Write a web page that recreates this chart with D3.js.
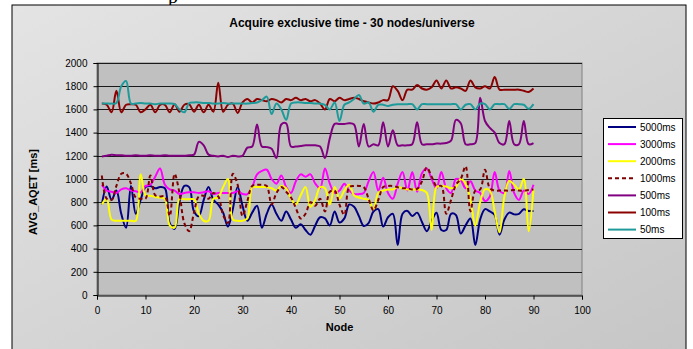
<!DOCTYPE html>
<html>
<head>
<meta charset="utf-8">
<style>
body { margin: 0; background: #fff; }
text { font-family: "Liberation Sans", Arial, sans-serif; fill: #000; }
.grid line { stroke: #1a1a1a; stroke-width: 1px; }
.series { fill: none; stroke-width: 2px; }
</style>
</head>
<body>
<script src="https://cdn.jsdelivr.net/npm/d3@7"></script>
<script>
// series order as in the legend
var seriesNames = ["5000ms", "3000ms", "2000ms", "1000ms", "500ms", "100ms", "50ms"];
var seriesColors = ["#000080", "#ff00ff", "#ffff00", "#800000", "#800080", "#8b0000", "#1f9a9a"];
var xTicks = [0, 10, 20, 30, 40, 50, 60, 70, 80, 90, 100];
var yTicks = [0, 200, 400, 600, 800, 1000, 1200, 1400, 1600, 1800, 2000];

var ms5000 = [780, 935, 820, 900, 700, 580, 940, 700, 820, 930, 940, 920, 930, 920, 620, 570, 800, 940, 930, 720, 680, 820, 930, 820, 780,
  710, 590, 740, 930, 770, 640, 710, 770, 580, 700, 780, 700, 640, 720, 650, 580, 610, 560, 520, 600, 670, 660, 600,
  720, 625, 660, 780, 760, 680, 595, 620, 720, 740, 590, 670, 700, 430, 700, 725, 680, 710, 630, 550, 640, 710, 560, 560, 700,
  690, 530, 600, 660, 430, 650, 740, 720, 690, 520, 650, 710, 695, 700, 740, 725, 725];
var ms3000 = [950, 900, 890, 880, 910, 920, 900, 895, 885, 940, 950, 1020, 1090, 950, 910, 900, 870, 880, 885, 885, 880, 885, 895, 870, 880,
  880, 880, 880, 895, 870, 870, 930, 1040, 1070, 1080, 1000, 960, 1030, 930, 880, 980, 1040, 1020, 1040, 960, 920, 1090, 960, 880,
  900, 960, 900, 870, 870, 880, 980, 1060, 900, 1010, 880, 830, 960, 1060, 900, 1060, 890, 1050, 1090, 1000, 920, 1060, 920, 880, 1000,
  990, 920, 980, 900, 880, 810, 850, 1060, 900, 880, 1070, 880, 820, 900, 870, 950];
var ms2000 = [780, 830, 650, 640, 640, 640, 640, 640, 1040, 860, 855, 845, 840, 830, 600, 580, 830, 825, 825, 825, 700, 640, 640, 830, 840,
  930, 1000, 650, 640, 640, 660, 930, 930, 930, 930, 920, 900, 940, 920, 830, 780, 860, 930, 760, 820, 930, 920, 780,
  930, 830, 900, 950, 860, 840, 830, 820, 740, 880, 900, 910, 910, 930, 920, 910, 910, 910, 905, 880, 560, 930, 940, 935, 920, 930,
  1000, 960, 820, 600, 800, 910, 900, 720, 540, 850, 985, 950, 910, 1000, 550, 910];
var ms1000 = [1030, 830, 820, 940, 1045, 1045, 960, 840, 830, 830, 1030, 860, 850, 850, 680, 1045, 880, 620, 550, 710, 850, 855, 830, 880, 850,
  690, 620, 1045, 950, 680, 810, 940, 950, 950, 940, 780, 880, 930, 890, 840, 750, 660, 700, 800, 770, 830, 720, 890,
  900, 780, 690, 930, 940, 940, 930, 830, 730, 820, 930, 940, 940, 930, 920, 920, 910, 915, 980, 1100, 1020, 940, 940, 700, 820, 950,
  1000, 1110, 720, 900, 910, 1080, 920, 900, 900, 900, 900, 905, 900, 900, 905, 910];
var ms500 = [1195, 1200, 1210, 1205, 1205, 1200, 1200, 1205, 1200, 1200,
  1205, 1200, 1200, 1205, 1200, 1200, 1200, 1200, 1205, 1210,
  1320, 1290, 1210, 1200, 1195, 1200, 1190, 1200, 1195, 1200,
  1270, 1280, 1470, 1280, 1275, 1260, 1180, 1470, 1480, 1280,
  1280, 1285, 1290, 1290, 1290, 1280, 1180, 1350, 1475, 1475,
  1475, 1480, 1470, 1280, 1475, 1280, 1300, 1290, 1490, 1280,
  1420, 1290, 1290, 1290, 1300, 1490, 1300, 1300, 1300, 1305,
  1305, 1310, 1330, 1510, 1480, 1300, 1300, 1310, 1700, 1500,
  1440, 1400, 1310, 1300, 1500, 1300, 1300, 1500, 1300, 1310];
var ms100 = [1650, 1640, 1575, 1760, 1575, 1640, 1645, 1640, 1575, 1600,
  1640, 1575, 1640, 1640, 1575, 1645, 1580, 1640, 1645, 1580,
  1640, 1575, 1640, 1580, 1830, 1580, 1640, 1650, 1570, 1660,
  1690, 1660, 1690, 1680, 1670, 1690, 1680, 1660, 1690, 1680,
  1700, 1680, 1690, 1670, 1680, 1650, 1600, 1690, 1670, 1700,
  1680, 1690, 1700, 1690, 1670, 1660, 1650, 1660, 1680, 1680,
  1800, 1760, 1680, 1770, 1770, 1810, 1780, 1770, 1790, 1850,
  1780, 1850, 1780, 1790, 1780, 1760, 1850, 1790, 1780, 1800,
  1780, 1880, 1770, 1770, 1770, 1770, 1770, 1760, 1750, 1780];
var ms50 = [1650, 1650, 1650, 1655, 1800, 1845, 1650, 1650, 1655, 1650,
  1650, 1645, 1650, 1650, 1650, 1645, 1600, 1575, 1655, 1660,
  1660, 1655, 1655, 1650, 1650, 1655, 1650, 1650, 1650, 1650,
  1650, 1655, 1660, 1680, 1710, 1560, 1650, 1600, 1510, 1650,
  1660, 1660, 1655, 1655, 1650, 1650, 1640, 1600, 1660, 1500,
  1640, 1660, 1690, 1725, 1650, 1660, 1580, 1640, 1640, 1630,
  1640, 1645, 1645, 1645, 1645, 1600, 1645, 1645, 1645, 1645,
  1645, 1645, 1645, 1645, 1600, 1640, 1645, 1600, 1650, 1645,
  1600, 1645, 1645, 1645, 1605, 1645, 1645, 1640, 1605, 1645];

var seriesValues = [ms5000, ms3000, ms2000, ms1000, ms500, ms100, ms50];

var width = 693, height = 349;
var plot = {left: 97, right: 582, top: 63, bottom: 295};

var svg = d3.select("body").append("svg")
    .attr("width", width)
    .attr("height", height);

var grad = svg.append("defs").append("linearGradient")
    .attr("id", "bg").attr("x1", "0").attr("y1", "0").attr("x2", "1").attr("y2", "1");
grad.append("stop").attr("offset", "0").attr("stop-color", "#e4e4e4");
grad.append("stop").attr("offset", "1").attr("stop-color", "#c6c6c6");

// bit of the document text above the chart
svg.append("text")
    .attr("x", 168).attr("y", 3)
    .style("font-family", "'Liberation Serif', serif")
    .style("font-size", "20px")
    .text("p");

svg.append("rect")
    .attr("x", 12).attr("y", 5)
    .attr("width", 674).attr("height", 346)
    .attr("fill", "url(#bg)")
    .attr("stroke", "#000");

var x = d3.scaleLinear().domain([0, 100]).range([plot.left, plot.right]);
var y = d3.scaleLinear().domain([0, 2000]).range([plot.bottom, plot.top]);

svg.append("rect")
    .attr("x", plot.left).attr("y", plot.top)
    .attr("width", plot.right - plot.left).attr("height", plot.bottom - plot.top)
    .attr("fill", "#c0c0c0")
    .attr("stroke", "#808080");

svg.append("g").attr("class", "grid")
  .selectAll("line")
  .data(yTicks.slice(1))
  .enter().append("line")
    .attr("x1", plot.left).attr("x2", plot.right)
    .attr("y1", function(d) { return Math.round(y(d)) + 0.5; })
    .attr("y2", function(d) { return Math.round(y(d)) + 0.5; });

var yAxis = svg.append("g")
    .attr("transform", "translate(" + (plot.left + 0.5) + ",0)")
    .call(d3.axisLeft(y).tickValues(yTicks).tickSize(4).tickPadding(6).tickFormat(d3.format("d")));
var xAxis = svg.append("g")
    .attr("transform", "translate(0," + (plot.bottom + 0.5) + ")")
    .call(d3.axisBottom(x).tickValues(xTicks).tickSize(4).tickPadding(7));
[xAxis, yAxis].forEach(function(a) {
  a.select(".domain").attr("stroke", "#000");
  a.selectAll(".tick line").attr("stroke", "#000");
  a.selectAll("text").style("font-size", "10px").style("font-family", "'Liberation Sans', Arial, sans-serif");
});

var line = d3.line()
    .x(function(d, i) { return x(i + 1); })
    .y(function(d) { return y(d); })
    .curve(d3.curveCatmullRom.alpha(0.5));

svg.append("g")
  .selectAll("path")
  .data(seriesValues)
  .enter().append("path")
    .attr("class", "series")
    .attr("stroke", function(d, i) { return seriesColors[i]; })
    .attr("stroke-dasharray", function(d, i) { return seriesNames[i] == "1000ms" ? "4,3" : null; })
    .attr("d", line);

svg.append("text")
    .attr("x", 352).attr("y", 27)
    .attr("text-anchor", "middle")
    .style("font-size", "12px").style("font-weight", "bold")
    .text("Acquire exclusive time - 30 nodes/universe");

svg.append("text")
    .attr("x", (plot.left + plot.right) / 2).attr("y", 331)
    .attr("text-anchor", "middle")
    .style("font-size", "11px").style("font-weight", "bold")
    .text("Node");

svg.append("text")
    .attr("transform", "translate(37,192) rotate(-90)")
    .attr("text-anchor", "middle")
    .style("font-size", "11px").style("font-weight", "bold")
    .text("AVG_AQET [ms]");

// legend
var legend = svg.append("g");
legend.append("rect")
    .attr("x", 603.5).attr("y", 118.5)
    .attr("width", 79).attr("height", 120)
    .attr("fill", "#fff").attr("stroke", "#000");
var item = legend.selectAll(".item")
    .data(seriesNames)
  .enter().append("g")
    .attr("transform", function(d, i) { return "translate(0," + (127 + i * 17.1) + ")"; });
item.append("line")
    .attr("x1", 608).attr("x2", 636)
    .attr("stroke", function(d, i) { return seriesColors[i]; })
    .attr("stroke-width", 2)
    .attr("stroke-dasharray", function(d) { return d == "1000ms" ? "4,3" : null; });
item.append("text")
    .attr("x", 640).attr("dy", "0.35em")
    .style("font-size", "10px")
    .text(function(d) { return d; });
</script>
</body>
</html>
